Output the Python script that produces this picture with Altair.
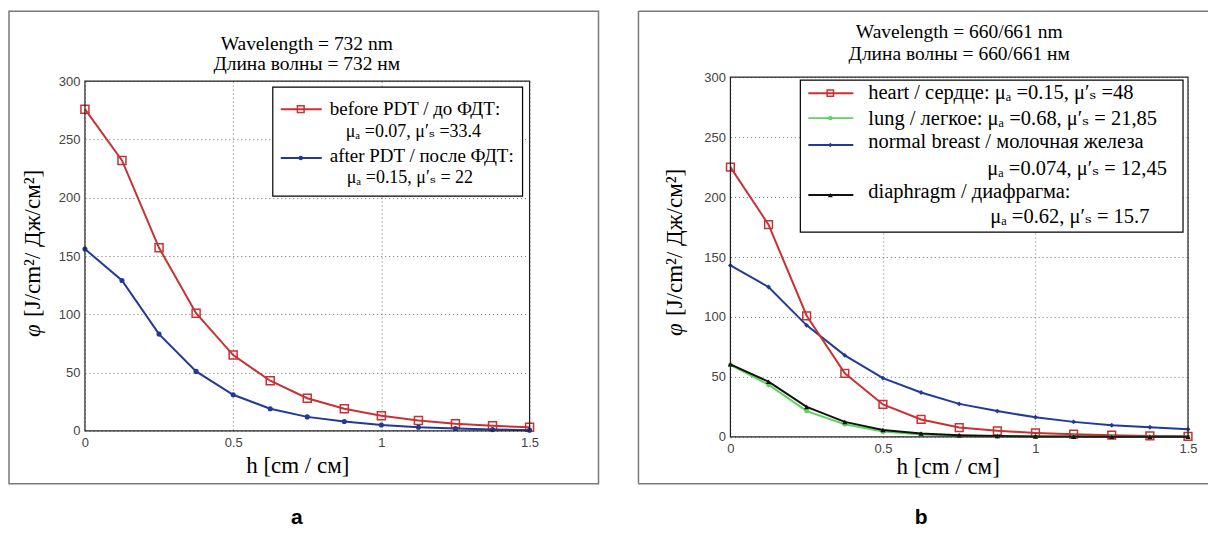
import altair as alt
import pandas as pd

# ---------------- data ----------------
h = [0, 0.125, 0.25, 0.375, 0.5, 0.625, 0.75, 0.875, 1.0, 1.125, 1.25, 1.375, 1.5]

before_pdt = [276, 232, 157, 101, 65, 43, 28, 19, 13, 8.8, 6, 4.3, 3.1]
after_pdt = [156, 129, 83, 51, 31, 19, 12, 8, 5, 3.1, 2, 1.1, 0.6]

heart = [225, 177, 101, 53, 27, 14.5, 7.8, 5, 3.3, 2.2, 1.4, 0.8, 0.5]
lung = [60, 43.5, 21.5, 10.5, 4.4, 2, 0.8, 0.4, 0.2, 0.1, 0.05, 0.03, 0.01]
breast = [143, 125, 93, 68, 49, 37, 27.5, 21.5, 16.3, 12.5, 9.7, 8, 6.4]
diaphragm = [60.5, 46, 25, 12.5, 5.8, 2.8, 1.4, 0.7, 0.4, 0.2, 0.1, 0.1, 0.05]

x_ticks = [0, 0.5, 1, 1.5]
y_ticks = [0, 50, 100, 150, 200, 250, 300]

titles_a = ["Wavelength = 732 nm", "Длина волны = 732 нм"]
titles_b = ["Wavelength = 660/661 nm", "Длина волны = 660/661 нм"]
legend_a = ["before PDT / до ФДТ:", "μₐ =0.07, μ′ₛ =33.4",
            "after PDT / после ФДТ:", "μₐ =0.15, μ′ₛ = 22"]
legend_b = ["heart / сердце: μₐ =0.15, μ′ₛ =48",
            "lung / легкое:  μₐ =0.68, μ′ₛ = 21,85",
            "normal breast / молочная железа",
            "μₐ =0.074, μ′ₛ = 12,45",
            "diaphragm / диафрагма:",
            "μₐ =0.62, μ′ₛ = 15.7"]
x_title = "h [cm / см]"
y_title_sym = "φ"
y_title_rest = "[J/cm²/ Дж/см²]"
panel_labels = ["a", "b"]

# ---------------- styles ----------------
SERIF = "'Liberation Serif', 'Times New Roman', 'DejaVu Serif', serif"
SANS = "'Liberation Sans', Arial, sans-serif"
RED = "#c83232"
BLUE = "#1f3a98"
GREEN = "#5fd35f"
BLACK = "#111111"
FRAME = "#7a7a7a"

one = pd.DataFrame({"k": [0]})


def txt(s, x, y, size, font=SERIF, align="left", baseline="alphabetic",
        style="normal", weight="normal", angle=0, color="black"):
    return alt.Chart(one).mark_text(
        text=s, font=font, fontSize=size, align=align, baseline=baseline,
        fontStyle=style, fontWeight=weight, angle=angle, color=color
    ).encode(x=alt.value(x), y=alt.value(y))


def rule(x1, y1, x2, y2, color, width):
    return alt.Chart(one).mark_rule(color=color, strokeWidth=width).encode(
        x=alt.value(x1), x2=alt.value(x2), y=alt.value(y1), y2=alt.value(y2))


def box(x1, y1, x2, y2, stroke, width, fill=None):
    kw = dict(stroke=stroke, strokeWidth=width)
    if fill:
        kw["fill"] = fill
        kw["fillOpacity"] = 1
    else:
        kw["fillOpacity"] = 0
    return alt.Chart(one).mark_rect(**kw).encode(
        x=alt.value(x1), x2=alt.value(x2), y=alt.value(y1), y2=alt.value(y2))


def sample_point(x, y, color, shape, filled, size):
    return alt.Chart(one).mark_point(
        shape=shape, filled=filled, color=color, size=size,
        strokeWidth=1.5, opacity=1).encode(x=alt.value(x), y=alt.value(y))


common_axis = dict(grid=True, gridDash=[1, 3], gridColor="#6f6f6f", gridWidth=1,
                   gridOpacity=1, ticks=False, domain=False, labelFont=SANS,
                   labelFontSize=13, labelColor="#444444", title=None)
xa = alt.Axis(values=x_ticks, format="~g", labelPadding=6, labelFlush=False,
              **common_axis)
ya = alt.Axis(values=y_ticks, format="d", labelPadding=5, **common_axis)


def series(vals, color, shape, filled, size, ys):
    df = pd.DataFrame({"h": h, "phi": vals})
    xs = alt.Scale(domain=[0, 1.5], nice=False, zero=False)
    enc = dict(x=alt.X("h:Q", scale=xs, axis=xa),
               y=alt.Y("phi:Q", scale=ys, axis=ya))
    line = alt.Chart(df).mark_line(color=color, strokeWidth=2).encode(**enc)
    pts = alt.Chart(df).mark_point(shape=shape, filled=filled, color=color,
                                   size=size, strokeWidth=1.5,
                                   opacity=1).encode(**enc)
    return [line, pts]


# ---------------- panel a ----------------
WA, HA = 445, 350
ys_a = alt.Scale(domain=[0, 300], nice=False, range=[HA, 0])
layers_a = []
layers_a += [box(-76, -70, 514, 403, FRAME, 1.5)]
layers_a += series(before_pdt, RED, "square", False, 64, ys_a)
layers_a += series(after_pdt, BLUE, "circle", True, 26, ys_a)
layers_a += [
    box(0, 0, WA, HA, "#222222", 1.2),
    txt(titles_a[0], 222, -31, 19.5, align="center"),
    txt(titles_a[1], 222, -11, 19.5, align="center"),
    box(188, 6, 438, 115, "black", 1.2, fill="white"),
    rule(196, 28, 237, 28, RED, 2),
    sample_point(216, 28, RED, "square", False, 45),
    txt(legend_a[0], 245, 34, 19),
    txt(legend_a[1], 261, 56, 18),
    rule(196, 77, 237, 77, BLUE, 2),
    sample_point(216, 77, BLUE, "circle", True, 20),
    txt(legend_a[2], 245, 81, 19),
    txt(legend_a[3], 262, 102, 18),
    txt(x_title, 213, 392, 23, align="center"),
    txt(y_title_sym, -52, 256, 23, style="italic", angle=270, baseline="middle"),
    txt(y_title_rest, -52, 236, 23, angle=270, baseline="middle"),
    txt(panel_labels[0], 212, 443, 21, font=SANS, weight="bold",
        align="center"),
]
panel_a = alt.layer(*layers_a).properties(width=WA, height=HA)

# ---------------- panel b ----------------
# plot area of panel b starts 4px above the row origin
WB, HB = 458, 356
TOP_B = -4
ys_b = alt.Scale(domain=[0, 300], nice=False, range=[HB, TOP_B])
layers_b = []
layers_b += [rule(-92, -70, 478, -70, FRAME, 1.5),
             rule(-92, 403, 478, 403, FRAME, 1.5),
             rule(-92, -70, -92, 403, FRAME, 1.5)]
layers_b += series(breast, BLUE, "diamond", True, 24, ys_b)
layers_b += series(heart, RED, "square", False, 60, ys_b)
layers_b += series(lung, GREEN, "circle", True, 24, ys_b)
layers_b += series(diaphragm, BLACK, "triangle-up", True, 28, ys_b)
layers_b += [
    box(0, TOP_B, WB, HB, "#222222", 1.2),
    txt(titles_b[0], 229, -43, 19.5, align="center"),
    txt(titles_b[1], 229, -21, 19.5, align="center"),
    box(70, -1, 453, 151, "black", 1.2, fill="white"),
    rule(78, 12, 123, 12, RED, 2),
    sample_point(100, 12, RED, "square", False, 40),
    txt(legend_b[0], 138, 18, 20.5),
    rule(78, 37, 123, 37, GREEN, 2),
    sample_point(100, 37, GREEN, "circle", True, 20),
    txt(legend_b[1], 138, 44, 20.5),
    rule(78, 64, 123, 64, BLUE, 2),
    sample_point(100, 64, BLUE, "diamond", True, 20),
    txt(legend_b[2], 138, 67, 20.5),
    txt(legend_b[3], 257, 94, 20.5),
    rule(78, 114, 123, 114, BLACK, 2),
    sample_point(100, 114, BLACK, "triangle-up", True, 24),
    txt(legend_b[4], 138, 117, 20.5),
    txt(legend_b[5], 260, 142, 20.5),
    txt(x_title, 218, 393, 23, align="center"),
    txt(y_title_sym, -55, 255, 23, style="italic", angle=270, baseline="middle"),
    txt(y_title_rest, -55, 235, 23, angle=270, baseline="middle"),
    txt(panel_labels[1], 191, 443, 21, font=SANS, weight="bold",
        align="center"),
]
panel_b = alt.layer(*layers_b).properties(width=WB, height=HB)

chart = alt.hconcat(panel_a, panel_b, spacing=38).properties(
    padding={"left": 0, "top": 2, "right": 0, "bottom": 0},
    background="white",
).configure_view(stroke="transparent", strokeWidth=0)

chart.save("out.html", embed_options={"renderer": "svg", "actions": False})
